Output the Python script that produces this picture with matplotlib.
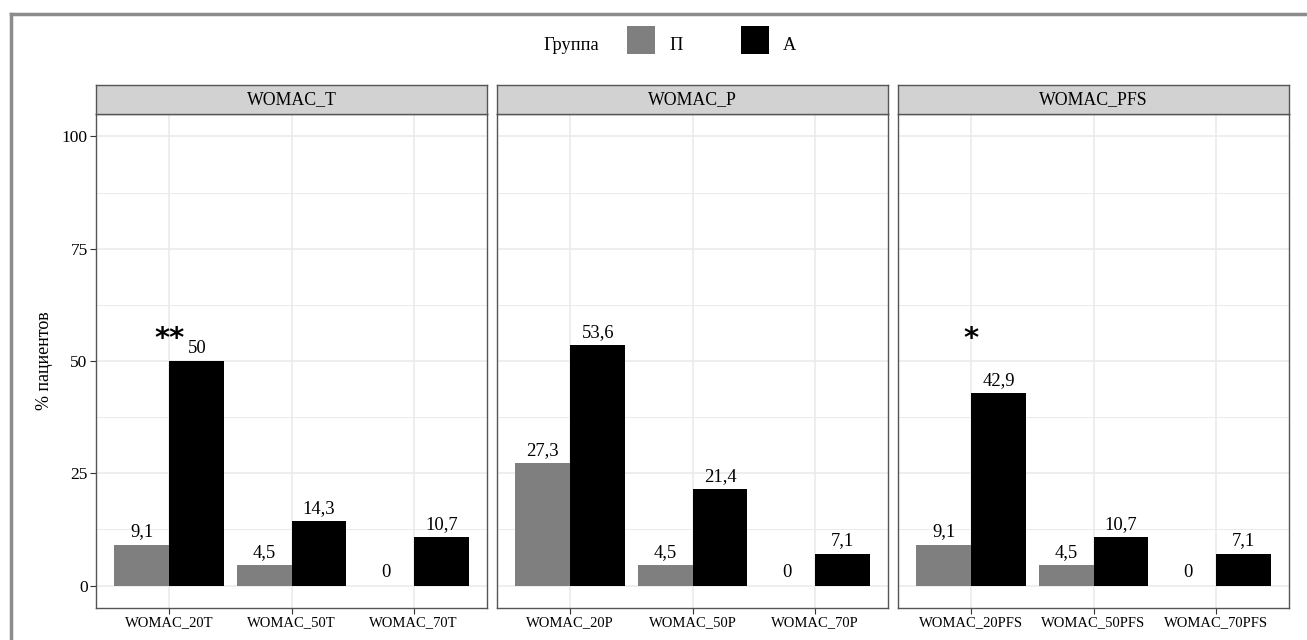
import numpy as np
import matplotlib
matplotlib.use("Agg")
import matplotlib.pyplot as plt
from matplotlib.patches import Rectangle
from matplotlib.lines import Line2D

plt.rcParams['font.family'] = ['Liberation Serif', 'DejaVu Serif']

# data
panels = ['WOMAC_T', 'WOMAC_P', 'WOMAC_PFS']
categories = [['WOMAC_20T', 'WOMAC_50T', 'WOMAC_70T'],
              ['WOMAC_20P', 'WOMAC_50P', 'WOMAC_70P'],
              ['WOMAC_20PFS', 'WOMAC_50PFS', 'WOMAC_70PFS']]
group_p = [[9.1, 4.5, 0], [27.3, 4.5, 0], [9.1, 4.5, 0]]
group_a = [[50, 14.3, 10.7], [53.6, 21.4, 7.1], [42.9, 10.7, 7.1]]
stars = [['**', '', ''], ['', '', ''], ['*', '', '']]
star_y = 55

groups = ['П', 'А']
colors = ['#7f7f7f', '#000000']

W, H = 1307, 640
fig = plt.figure(figsize=(W / 100, H / 100), dpi=100)


def fx(px):
    return px / W


def fy(py):
    return 1 - py / H


def fmt(v):
    s = ('%.1f' % v).rstrip('0').rstrip('.')
    return s.replace('.', ',')


# outer frame (left and top edges)
fig.add_artist(Line2D([fx(11), fx(11)], [fy(14), 0], color='#8c8c8c', lw=2.5,
                      transform=fig.transFigure))
fig.add_artist(Line2D([fx(11), 1], [fy(14), fy(14)], color='#8c8c8c', lw=2.5,
                      transform=fig.transFigure))

panel_left = [96, 497, 898]
panel_w = 391
top, bottom, strip_top = 114, 608, 85
bw = 0.45

for k, name in enumerate(panels):
    ax = fig.add_axes([fx(panel_left[k]), fy(bottom), fx(panel_w), (bottom - top) / H])
    x = np.arange(1, 4)
    ax.bar(x - bw / 2, group_p[k], width=bw, color=colors[0], zorder=3)
    ax.bar(x + bw / 2, group_a[k], width=bw, color=colors[1], zorder=3)
    for i in range(3):
        ax.annotate(fmt(group_p[k][i]), (x[i] - bw / 2, group_p[k][i]), xytext=(0, 3),
                    textcoords='offset points', ha='center', va='bottom', fontsize=13.4)
        ax.annotate(fmt(group_a[k][i]), (x[i] + bw / 2, group_a[k][i]), xytext=(0, 3),
                    textcoords='offset points', ha='center', va='bottom', fontsize=13.4)
        if stars[k][i]:
            ax.text(x[i], star_y, stars[k][i], ha='center', va='center', fontsize=21,
                    fontweight='bold', family='DejaVu Sans')
    ax.set_xlim(0.4, 3.6)
    ax.set_ylim(-5, 105)
    ax.set_xticks(x)
    ax.set_xticklabels(categories[k], fontsize=10.5)
    ax.set_yticks([0, 25, 50, 75, 100])
    ax.set_yticks([12.5, 37.5, 62.5, 87.5], minor=True)
    ax.grid(True, which='major', color='#ebebeb', lw=1.2, zorder=0)
    ax.grid(True, which='minor', axis='y', color='#ebebeb', lw=0.7, zorder=0)
    ax.tick_params(which='minor', length=0)
    ax.tick_params(which='major', length=4, color='#333333', width=0.8, pad=2,
                   labelsize=12.5)
    ax.tick_params(axis='x', labelsize=10.5)
    if k == 0:
        ax.set_ylabel('% пациентов', fontsize=13, labelpad=6)
    else:
        ax.tick_params(axis='y', left=False, labelleft=False)
    for sp in ax.spines.values():
        sp.set_color('#555555')
        sp.set_linewidth(1.0)

    # facet strip
    sax = fig.add_axes([fx(panel_left[k]), fy(top), fx(panel_w), (top - strip_top) / H])
    sax.set_facecolor('#d2d2d2')
    sax.set_xticks([])
    sax.set_yticks([])
    for sp in sax.spines.values():
        sp.set_color('#555555')
        sp.set_linewidth(1.0)
    sax.text(0.5, 0.5, name, ha='center', va='center', fontsize=12.8,
             transform=sax.transAxes)

# legend
fig.text(fx(543), fy(45), 'Группа', ha='left', va='center', fontsize=13.2)
for px, col, lab in [(627, colors[0], groups[0]), (741, colors[1], groups[1])]:
    fig.add_artist(Rectangle((fx(px), fy(54)), fx(28), 28 / H, facecolor=col,
                             edgecolor='none', transform=fig.transFigure))
    fig.text(fx(px + 42), fy(45), lab, ha='left', va='center', fontsize=13.2)

fig.savefig('out.png', dpi=100)
